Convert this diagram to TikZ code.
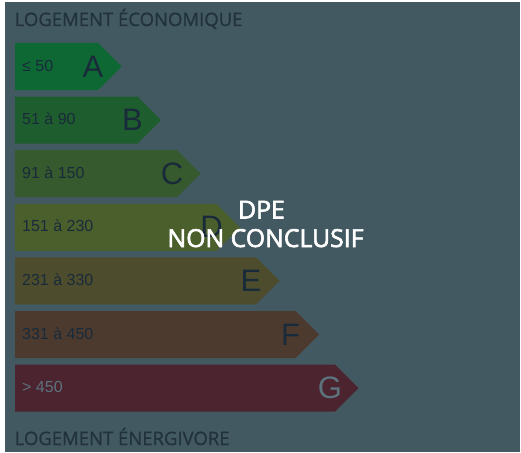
\documentclass[tikz,border=0pt]{standalone}
\usepackage{fontspec}
\newfontfamily\arialf{Liberation Sans}
\newfontfamily\opens[FakeBold=0.8]{Open Sans}
\newfontfamily\opensov[FakeBold=2.4]{Open Sans}
\definecolor{bgc}{RGB}{67,89,97}
\definecolor{cA}{RGB}{14,104,52}
\definecolor{cB}{RGB}{30,93,46}
\definecolor{cC}{RGB}{54,90,45}
\definecolor{cD}{RGB}{75,95,45}
\definecolor{cE}{RGB}{77,76,44}
\definecolor{cF}{RGB}{77,58,47}
\definecolor{cG}{RGB}{75,36,48}
\definecolor{txtdark}{RGB}{25,43,58}
\definecolor{txtlight}{RGB}{92,114,124}
\definecolor{headc}{RGB}{33,50,60}
\tikzset{
  rangetxt/.style={anchor=base west, inner sep=0pt, font=\arialf\fontsize{16}{16}\selectfont, text=txtdark},
  lettertxt/.style={anchor=base, inner sep=0pt, font=\arialf\fontsize{31}{31}\selectfont, text=txtdark},
  headtxt/.style={anchor=base west, inner sep=0pt, font=\opens\fontsize{18.5}{18.5}\selectfont, text=headc},
  overtxt/.style={anchor=base, inner sep=0pt, font=\opensov\fontsize{24.8}{24.8}\selectfont, text=white}
}
\begin{document}
\begin{tikzpicture}[x=1pt,y=-1pt]
\useasboundingbox (0,0) rectangle (521,452);
\fill[white] (0,0) rectangle (521,452);
\fill[bgc] (5,2) rectangle (520,452);
\node[headtxt] (top) at (14.5,26) {LOGEMENT ÉCONOMIQUE};
\foreach \i/\c/\r/\l/\tc in {0/cA/{≤ 50}/A/txtdark,1/cB/{51 à 90}/B/txtdark,2/cC/{91 à 150}/C/txtdark,3/cD/{151 à 230}/D/txtdark,4/cE/{231 à 330}/E/txtdark,5/cF/{331 à 450}/F/txtdark,6/cG/{> 450}/G/txtlight}{
  \pgfmathsetmacro{\yt}{43+53.6*\i}
  \pgfmathsetmacro{\yb}{\yt+47}
  \pgfmathsetmacro{\ym}{\yt+23.5}
  \pgfmathsetmacro{\xs}{98+39.5*\i}
  \pgfmathsetmacro{\xt}{\xs+23.5}
  \fill[\c] (15,\yt) -- (\xs,\yt) -- (\xt,\ym) -- (\xs,\yb) -- (15,\yb) -- cycle;
  \node[rangetxt, text=\tc] (r\l) at (22,\yt+28) {\r};
  \node[lettertxt, text=\tc] (l\l) at (\xs-5,\yt+34) {\l};
}
\node[headtxt] (bot) at (14.5,445) {LOGEMENT ÉNERGIVORE};
\node[overtxt] (dpe) at (261.5,218.5) {DPE};
\node[overtxt] (nc) at (265.5,247) {NON CONCLUSIF};
\end{tikzpicture}
\end{document}
